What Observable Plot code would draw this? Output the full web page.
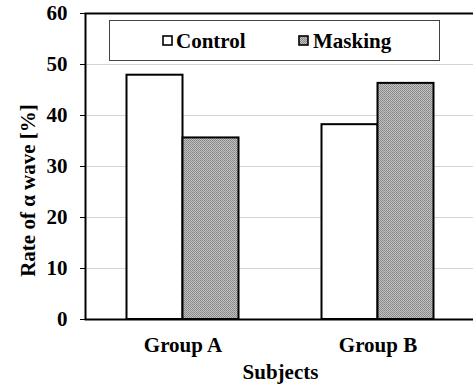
<!DOCTYPE html>
<html lang="en">
<head>
<meta charset="utf-8">
<script src="https://cdn.jsdelivr.net/npm/d3@7"></script>
<script src="https://cdn.jsdelivr.net/npm/@observablehq/plot@0.6"></script>
<style>
  body { margin: 0; background: #fff; }
  #wrap { position: relative; width: 473px; height: 387px; }
  #legend { position: absolute; left: 109px; top: 20px; width: 329px; height: 39px; border: 1px solid #444; background: #fff; }
  .lt { position: absolute; top: 8px; line-height: 21px; color: #000; font: bold 21px 'Times New Roman', 'Liberation Serif', Tinos, serif; white-space: nowrap; }
</style>
</head>
<body>
<div id="wrap"></div>
<script>
const groups = ["Group A", "Group B"];
const seriesNames = ["Control", "Masking"];
const controlValues = [47.9, 38.2];
const maskingValues = [35.6, 46.3];
const yTicks = [0, 10, 20, 30, 40, 50, 60];
const yLabel = "Rate of α wave [%]";
const xLabel = "Subjects";

const controlData = groups.map((g, i) => ({group: g, value: controlValues[i]}));
const maskingData = groups.map((g, i) => ({group: g, value: maskingValues[i]}));

const FF = "'Times New Roman', 'Liberation Serif', Tinos, serif";
const font = {fontFamily: FF, fontWeight: "bold", fontSize: 21};

const chart = Plot.plot({
  width: 473,
  height: 387,
  marginLeft: 85,
  marginRight: -2,
  marginTop: 13,
  marginBottom: 68,
  style: {fontFamily: FF, fontWeight: "bold", fontSize: "21px", color: "#000", background: "#fff"},
  x: {domain: groups, padding: 0, axis: null},
  y: {domain: [0, 60], axis: null},
  marks: [
    Plot.gridY(yTicks.slice(1, -1), {stroke: "#d4d4d4", strokeOpacity: 1, strokeWidth: 1}),
    Plot.barY(controlData, {x: "group", y: "value", fill: "#fff", stroke: "#000", strokeWidth: 2, insetLeft: 41.5, insetRight: 97.5}),
    Plot.barY(maskingData, {x: "group", y: "value", fill: "url(#stip)", stroke: "#000", strokeWidth: 2, insetLeft: 97.5, insetRight: 41.5}),
    Plot.frame({stroke: "#000", strokeWidth: 2}),
    Plot.axisY({ticks: yTicks, tickSize: 5, tickPadding: 13, label: null, ...font, stroke: "#000"}),
    Plot.axisX({tickSize: 0, tickPadding: 18, label: null, ...font}),
    Plot.text([yLabel], {text: d => d, frameAnchor: "left", textAnchor: "middle", lineAnchor: "middle", rotate: -90, dx: -57, dy: 24, ...font}),
    Plot.text([xLabel], {text: d => d, frameAnchor: "bottom", textAnchor: "middle", lineAnchor: "middle", dy: 53, ...font})
  ]
});

// stipple pattern for the Masking bars
const ns = "http://www.w3.org/2000/svg";
const defs = document.createElementNS(ns, "defs");
defs.innerHTML = `<pattern id="stip" patternUnits="userSpaceOnUse" width="2" height="2">
  <rect width="2" height="2" fill="#c2c2c2"/>
  <rect width="1" height="1" fill="#858585"/>
  <rect x="1" y="1" width="1" height="1" fill="#8f8f8f"/>
</pattern>`;
chart.insertBefore(defs, chart.firstChild);

const wrap = document.getElementById("wrap");
wrap.appendChild(chart);

// legend
const legend = document.createElement("div");
legend.id = "legend";
const swFill = ["#fff", "url(#stip)"];
const swLeft = [52, 188];
const txtLeft = [66, 203];
seriesNames.forEach((name, i) => {
  const sw = document.createElementNS(ns, "svg");
  sw.setAttribute("width", 11);
  sw.setAttribute("height", 11);
  sw.style.position = "absolute";
  sw.style.left = swLeft[i] + "px";
  sw.style.top = "14px";
  sw.innerHTML = `<rect x="1" y="1" width="9" height="9" fill="${swFill[i]}" stroke="#000" stroke-width="1.6"/>`;
  legend.appendChild(sw);
  const t = document.createElement("span");
  t.className = "lt";
  t.style.left = txtLeft[i] + "px";
  t.textContent = name;
  legend.appendChild(t);
});
wrap.appendChild(legend);
</script>
</body>
</html>
